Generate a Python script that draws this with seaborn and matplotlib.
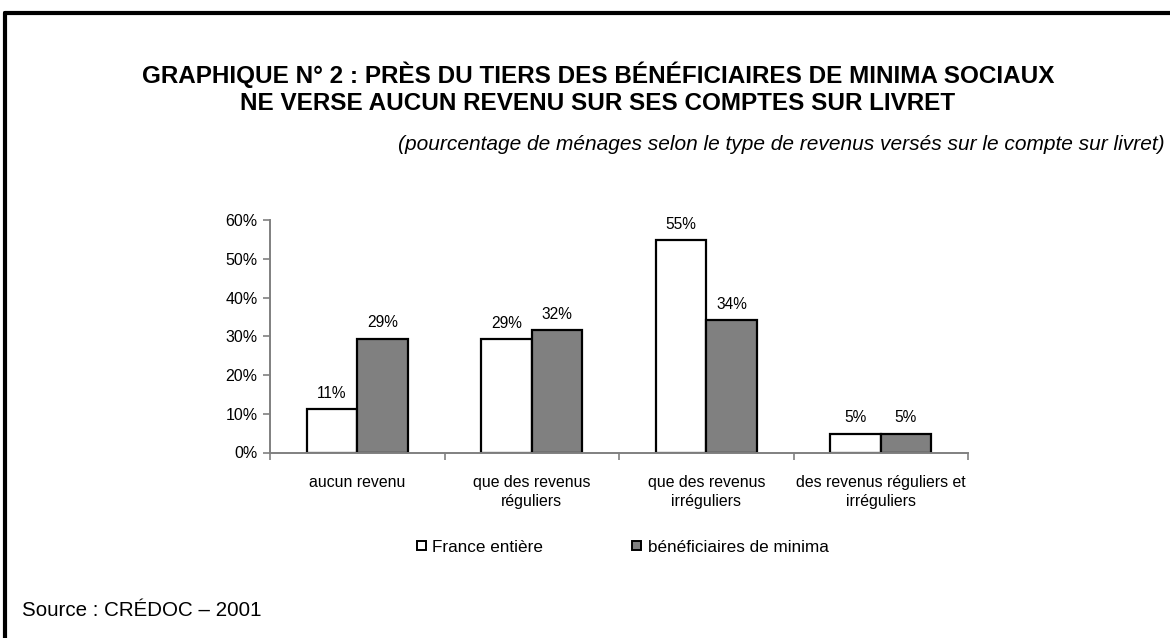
import matplotlib
matplotlib.use("Agg")
import matplotlib.pyplot as plt
from matplotlib.patches import Patch
from matplotlib.lines import Line2D
import seaborn as sns
import pandas as pd

categories = ["aucun revenu", "que des revenus\nréguliers", "que des revenus\nirréguliers",
              "des revenus réguliers et\nirréguliers"]
series = ["France entière", "bénéficiaires de minima"]
france = [11.1, 29.3, 54.8, 4.9]
minima = [29.4, 31.5, 34.1, 4.9]
france_labels = ["11%", "29%", "55%", "5%"]
minima_labels = ["29%", "32%", "34%", "5%"]
yticks = [0, 10, 20, 30, 40, 50, 60]

df = pd.DataFrame({
    "cat": categories * 2,
    "serie": [series[0]] * 4 + [series[1]] * 4,
    "val": france + minima,
})

sns.set_theme(style="white")
plt.rcParams["font.family"] = ["Liberation Sans", "DejaVu Sans"]
plt.rcParams["text.color"] = "black"
plt.rcParams["xtick.labelcolor"] = "black"
plt.rcParams["ytick.labelcolor"] = "black"

fig = plt.figure(figsize=(11.7, 6.38), dpi=100)
fig.patch.set_facecolor("white")
ax = fig.add_axes([270 / 1170, 1 - 452.5 / 638, 698 / 1170, 232.5 / 638])

sns.barplot(data=df, x="cat", y="val", hue="serie", order=categories, hue_order=series,
            palette={series[0]: "white", series[1]: "#808080"}, width=0.576,
            edgecolor="black", linewidth=1.6, saturation=1, legend=False, ax=ax)

for cont, labs in zip(ax.containers, [france_labels, minima_labels]):
    ax.bar_label(cont, labels=labs, padding=6, fontsize=11.2, color="black")

ax.set_xlim(-0.5, 3.5)
ax.set_ylim(0, 60)
ax.set_yticks(yticks)
ax.set_yticklabels([f"{v}%" for v in yticks], fontsize=11.5)
ax.set_xticks([-0.5, 0.5, 1.5, 2.5, 3.5])
ax.set_xticklabels([])
ax.tick_params(axis="both", which="both", length=5, width=1.2, color="#808080",
               labelcolor="black", direction="out", pad=4)
ax.tick_params(axis="y", left=True)
ax.tick_params(axis="x", bottom=True)
for i, c in enumerate(categories):
    ax.text(i, -5.8, c, ha="center", va="top", fontsize=11.4, linespacing=1.35,
            color="black", transform=ax.transData)
ax.set_xlabel("")
ax.set_ylabel("")
for s in ["top", "right"]:
    ax.spines[s].set_visible(False)
for s in ["left", "bottom"]:
    ax.spines[s].set_color("#808080")
    ax.spines[s].set_linewidth(1.4)
ax.grid(False)

# page frame (top and left rules)
fig.add_artist(Line2D([5 / 1170, 1], [1 - 13 / 638, 1 - 13 / 638], color="black", lw=3,
                      transform=fig.transFigure))
fig.add_artist(Line2D([5 / 1170, 5 / 1170], [0, 1 - 13 / 638], color="black", lw=3,
                      transform=fig.transFigure))

title_font = dict(ha="center", va="center", fontsize=17.5, fontweight="bold", color="black")
fig.text(598 / 1170, 1 - 75 / 638,
         "GRAPHIQUE N° 2 : PRÈS DU TIERS DES BÉNÉFICIAIRES DE MINIMA SOCIAUX", **title_font)
fig.text(598 / 1170, 1 - 104 / 638,
         "NE VERSE AUCUN REVENU SUR SES COMPTES SUR LIVRET", **title_font)
fig.text(1165 / 1170, 1 - 145 / 638,
         "(pourcentage de ménages selon le type de revenus versés sur le compte sur livret)",
         ha="right", va="center", fontsize=15.0, style="italic", color="black")
fig.text(22 / 1170, 1 - 611 / 638, "Source : CRÉDOC – 2001", ha="left", va="center",
         fontsize=14.8, color="black")

handles = [Patch(facecolor="white", edgecolor="black", linewidth=1.4),
           Patch(facecolor="#808080", edgecolor="black", linewidth=1.4)]
fig.legend(handles, series, loc="center left", bbox_to_anchor=(417 / 1170, 1 - 547 / 638),
           ncol=2, frameon=False, fontsize=12.3, handlelength=0.5, handleheight=0.5,
           handletextpad=0.4, columnspacing=5.2, borderaxespad=0, borderpad=0,
           labelcolor="black")

fig.savefig("out.png", dpi=100, facecolor="white")
